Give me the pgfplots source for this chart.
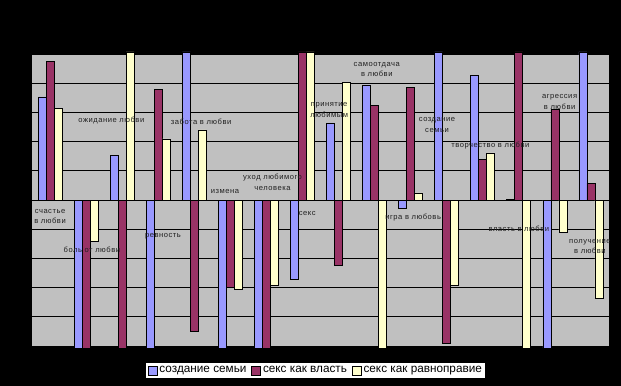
\documentclass[border=0pt]{standalone}
\usepackage{fontspec}
\setmainfont{Liberation Sans}
\newfontfamily\lblfont[LetterSpace=7]{Liberation Sans}
\usepackage{pgfplots}
\usepackage{pgfplotstable}
\pgfplotsset{compat=1.18}
\definecolor{sBlue}{HTML}{9999FF}
\definecolor{sRed}{HTML}{993366}
\definecolor{sYel}{HTML}{FFFFCC}
\definecolor{plotgray}{HTML}{C0C0C0}
\definecolor{lbl}{HTML}{202020}
\tikzset{lab/.style={font=\lblfont\fontsize{7.6}{10.5}\selectfont, text=lbl, align=center, inner sep=0pt}}

\pgfplotstableread{
x blue red yellow
0 3.53 4.73 3.15
1 -5.07 -5.07 -1.42
2 1.54 -5.07 5.07
3 -5.07 3.80 2.09
4 5.07 -4.49 2.40
5 -5.07 -2.98 -3.05
6 -5.07 -5.07 -2.92
7 -2.73 5.07 5.07
8 2.64 -2.23 4.04
9 3.94 3.25 -5.07
10 -0.30 3.84 0.24
11 5.07 -4.90 -2.91
12 4.28 1.40 1.61
13 0.03 5.07 -5.07
14 -5.07 3.09 -1.10
15 5.07 0.58 -3.36
}\data

\begin{document}
\begin{tikzpicture}
\fill[black] (-32bp,-40bp) rectangle (589bp,346bp);
\begin{axis}[
  at={(0,0)}, anchor=south west,
  scale only axis, width=577bp, height=292bp,
  xmin=-0.5, xmax=15.5, ymin=-5, ymax=5,
  xtick=\empty, ytick={-5,-4,...,5}, yticklabels={}, major tick length=0pt,
  ymajorgrids, grid style={black, line width=0.8pt},
  axis line style={draw=none},
  axis background/.style={fill=plotgray},
  clip=false,
  ybar=0pt, bar width=8bp,
  every axis plot/.append style={draw=black, line width=0.8pt},
  legend image code/.code={\draw[#1,draw=black,line width=0.6pt] (0bp,-4.5bp) rectangle (9bp,4.5bp);},
  legend style={at={(axis description cs:0.492,-0.084)}, anchor=center,
    legend columns=-1, draw=none, fill=white, inner sep=1.5pt,
    font=\fontsize{11.8}{14}\selectfont,
    /tikz/every even column/.append style={column sep=3pt}},
]
\addplot[fill=sBlue] table[x=x,y=blue] {\data};
\addplot[fill=sRed] table[x=x,y=red] {\data};
\addplot[fill=sYel] table[x=x,y=yellow] {\data};
\legend{создание семьи, секс как власть, секс как равноправие}
\node[lab] at (axis cs:0,-0.57) {счастье\\в любви};
\node[lab] at (axis cs:1.16,-1.71) {боль от любви};
\node[lab] at (axis cs:1.70,2.71) {ожидание любви};
\node[lab] at (axis cs:3.13,-1.23) {ревность};
\node[lab] at (axis cs:4.19,2.67) {забота в любви};
\node[lab] at (axis cs:4.85,0.29) {измена};
\node[lab] at (axis cs:6.17,0.60) {уход любимого\\человека};
\node[lab] at (axis cs:7.13,-0.47) {секс};
\node[lab] at (axis cs:7.74,3.09) {принятие\\любимым};
\node[lab] at (axis cs:9.06,4.46) {самоотдача\\в любви};
\node[lab] at (axis cs:10.07,-0.61) {игра в любовь};
\node[lab] at (axis cs:10.73,2.57) {создание\\семьи};
\node[lab] at (axis cs:12.21,1.87) {творчество в любви};
\node[lab] at (axis cs:13.0,-0.98) {власть в любви};
\node[lab] at (axis cs:14.13,3.36) {агрессия\\в любви};
\node[lab] at (axis cs:14.97,-1.60) {получение\\в любви};
\end{axis}
\end{tikzpicture}
\end{document}
